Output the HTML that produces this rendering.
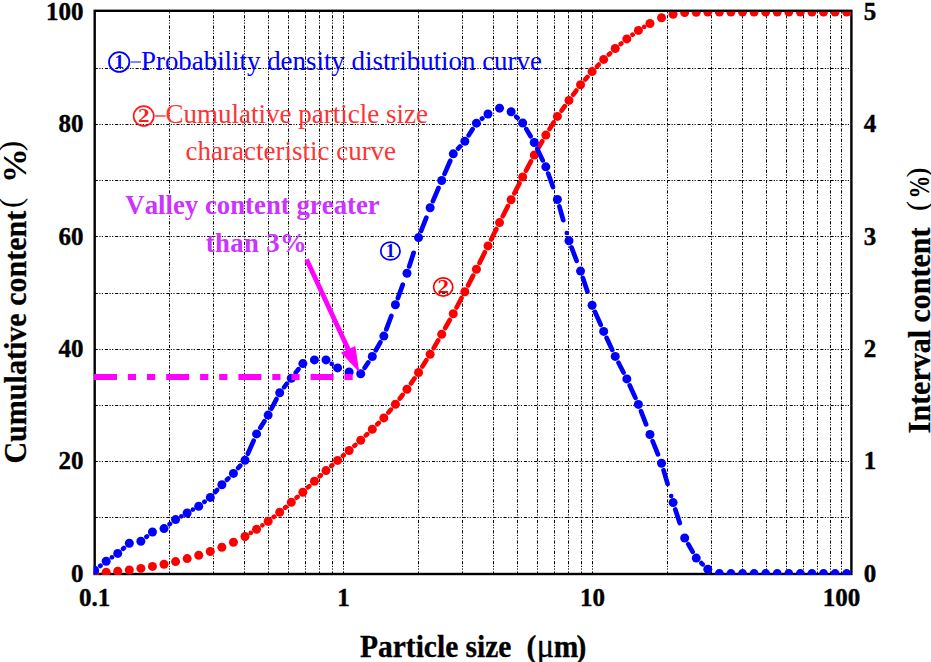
<!DOCTYPE html>
<html><head><meta charset="utf-8"><style>
html,body{margin:0;padding:0;background:#fff;}
body{width:931px;height:662px;overflow:hidden;font-family:"Liberation Serif",serif;}
svg{display:block;}
text{font-kerning:none;font-feature-settings:"kern" 0;}
.bk{stroke:#000;stroke-width:0.4px;}
.bk2{stroke:#000;stroke-width:0.3px;}
</style></head><body>
<svg width="931" height="662" viewBox="0 0 931 662">
<defs><clipPath id="pc"><rect x="93.6" y="11.8" width="759" height="563.3"/></clipPath></defs>
<rect width="931" height="662" fill="#fff"/>
<path d="M94.7 517.50H851.4 M94.7 461.50H851.4 M94.7 405.50H851.4 M94.7 349.50H851.4 M94.7 293.50H851.4 M94.7 236.50H851.4 M94.7 180.50H851.4 M94.7 124.50H851.4 M94.7 68.50H851.4" stroke="#000" stroke-width="1" stroke-dasharray="3.1 1.45 1.2 1.35 1.2 1.92" fill="none"/>
<path d="M169.50 10.8V574.0 M213.50 10.8V574.0 M244.50 10.8V574.0 M268.50 10.8V574.0 M288.50 10.8V574.0 M305.50 10.8V574.0 M319.50 10.8V574.0 M332.50 10.8V574.0 M343.50 10.8V574.0 M418.50 10.8V574.0 M462.50 10.8V574.0 M493.50 10.8V574.0 M517.50 10.8V574.0 M537.50 10.8V574.0 M554.50 10.8V574.0 M568.50 10.8V574.0 M581.50 10.8V574.0 M592.50 10.8V574.0 M667.50 10.8V574.0 M711.50 10.8V574.0 M742.50 10.8V574.0 M766.50 10.8V574.0 M786.50 10.8V574.0 M803.50 10.8V574.0 M817.50 10.8V574.0 M830.50 10.8V574.0 M841.50 10.8V574.0" stroke="#000" stroke-width="1" stroke-dasharray="3.2 1.5 1.2 1.4 1.2 1.8" stroke-dashoffset="5.9" fill="none"/>
<rect x="94.7" y="10.8" width="756.7" height="563.2" fill="none" stroke="#000" stroke-width="2.4"/>
<g clip-path="url(#pc)">
<path d="M273.79 516.91L274.08 516.69M285.13 507.62L285.88 506.98M296.68 497.60L297.47 496.90M308.04 487.27L309.25 486.13M319.70 476.37L320.73 475.43M331.36 465.87L332.21 465.13M343.00 455.75L343.71 455.15M354.50 445.77L355.35 445.03M365.89 435.37L367.10 434.23M377.37 424.28L378.76 422.92M388.46 412.44L390.81 409.66M399.81 398.55L402.60 394.95M411.05 383.41L414.50 378.39M422.40 366.47L426.29 360.33M433.70 348.10L438.13 340.40M445.23 327.98L449.74 320.02M456.59 307.47L461.52 298.03M468.12 285.35L473.13 275.65M479.58 262.89L484.81 252.31M491.16 239.50L496.37 229.00M502.77 216.22L507.90 206.08M514.37 193.33L519.44 183.37M526.03 170.68L530.92 161.42M537.84 148.91L542.25 141.29M549.59 129.02L553.64 122.48M561.59 110.61L564.78 106.19M573.23 94.66L576.28 90.54M585.25 79.42L587.40 76.98M597.03 66.41L598.76 64.59M608.88 54.50L610.05 53.40M620.75 43.93L621.32 43.47M632.58 34.67L632.63 34.63" stroke="#f00" stroke-width="4.7" stroke-linecap="round" fill="none"/>
<circle cx="250.80" cy="532.90" r="2.35" fill="#f00"/>
<circle cx="262.37" cy="525.30" r="2.35" fill="#f00"/>
<circle cx="644.18" cy="26.95" r="2.35" fill="#f00"/>
<circle cx="94.60" cy="573.40" r="4.5" fill="#f00"/>
<circle cx="106.17" cy="572.20" r="4.5" fill="#f00"/>
<circle cx="117.74" cy="571.20" r="4.5" fill="#f00"/>
<circle cx="129.31" cy="570.00" r="4.5" fill="#f00"/>
<circle cx="140.88" cy="568.40" r="4.5" fill="#f00"/>
<circle cx="152.45" cy="566.40" r="4.5" fill="#f00"/>
<circle cx="164.02" cy="564.30" r="4.5" fill="#f00"/>
<circle cx="175.59" cy="561.60" r="4.5" fill="#f00"/>
<circle cx="187.16" cy="558.60" r="4.5" fill="#f00"/>
<circle cx="198.73" cy="555.30" r="4.5" fill="#f00"/>
<circle cx="210.30" cy="551.50" r="4.5" fill="#f00"/>
<circle cx="221.87" cy="547.20" r="4.5" fill="#f00"/>
<circle cx="233.44" cy="542.20" r="4.5" fill="#f00"/>
<circle cx="245.01" cy="536.50" r="4.5" fill="#f00"/>
<circle cx="256.58" cy="529.30" r="4.5" fill="#f00"/>
<circle cx="268.15" cy="521.30" r="4.5" fill="#f00"/>
<circle cx="279.72" cy="512.30" r="4.5" fill="#f00"/>
<circle cx="291.29" cy="502.30" r="4.5" fill="#f00"/>
<circle cx="302.86" cy="492.20" r="4.5" fill="#f00"/>
<circle cx="314.43" cy="481.20" r="4.5" fill="#f00"/>
<circle cx="326.00" cy="470.60" r="4.5" fill="#f00"/>
<circle cx="337.57" cy="460.40" r="4.5" fill="#f00"/>
<circle cx="349.14" cy="450.50" r="4.5" fill="#f00"/>
<circle cx="360.71" cy="440.30" r="4.5" fill="#f00"/>
<circle cx="372.28" cy="429.30" r="4.5" fill="#f00"/>
<circle cx="383.85" cy="417.90" r="4.5" fill="#f00"/>
<circle cx="395.42" cy="404.20" r="4.5" fill="#f00"/>
<circle cx="406.99" cy="389.30" r="4.5" fill="#f00"/>
<circle cx="418.56" cy="372.50" r="4.5" fill="#f00"/>
<circle cx="430.13" cy="354.30" r="4.5" fill="#f00"/>
<circle cx="441.70" cy="334.20" r="4.5" fill="#f00"/>
<circle cx="453.27" cy="313.80" r="4.5" fill="#f00"/>
<circle cx="464.84" cy="291.70" r="4.5" fill="#f00"/>
<circle cx="476.41" cy="269.30" r="4.5" fill="#f00"/>
<circle cx="487.98" cy="245.90" r="4.5" fill="#f00"/>
<circle cx="499.55" cy="222.60" r="4.5" fill="#f00"/>
<circle cx="511.12" cy="199.70" r="4.5" fill="#f00"/>
<circle cx="522.69" cy="177.00" r="4.5" fill="#f00"/>
<circle cx="534.26" cy="155.10" r="4.5" fill="#f00"/>
<circle cx="545.83" cy="135.10" r="4.5" fill="#f00"/>
<circle cx="557.40" cy="116.40" r="4.5" fill="#f00"/>
<circle cx="568.97" cy="100.40" r="4.5" fill="#f00"/>
<circle cx="580.54" cy="84.80" r="4.5" fill="#f00"/>
<circle cx="592.11" cy="71.60" r="4.5" fill="#f00"/>
<circle cx="603.68" cy="59.40" r="4.5" fill="#f00"/>
<circle cx="615.25" cy="48.50" r="4.5" fill="#f00"/>
<circle cx="626.82" cy="38.90" r="4.5" fill="#f00"/>
<circle cx="638.39" cy="30.40" r="4.5" fill="#f00"/>
<circle cx="649.96" cy="23.50" r="4.5" fill="#f00"/>
<circle cx="661.53" cy="17.80" r="4.5" fill="#f00"/>
<circle cx="673.10" cy="14.20" r="4.5" fill="#f00"/>
<circle cx="684.67" cy="12.60" r="4.5" fill="#f00"/>
<circle cx="696.24" cy="12.20" r="4.5" fill="#f00"/>
<circle cx="707.81" cy="12.00" r="4.5" fill="#f00"/>
<circle cx="719.38" cy="12.00" r="4.5" fill="#f00"/>
<circle cx="730.95" cy="12.00" r="4.5" fill="#f00"/>
<circle cx="742.52" cy="12.00" r="4.5" fill="#f00"/>
<circle cx="754.09" cy="12.00" r="4.5" fill="#f00"/>
<circle cx="765.66" cy="12.00" r="4.5" fill="#f00"/>
<circle cx="777.23" cy="12.00" r="4.5" fill="#f00"/>
<circle cx="788.80" cy="12.00" r="4.5" fill="#f00"/>
<circle cx="800.37" cy="12.00" r="4.5" fill="#f00"/>
<circle cx="811.94" cy="12.00" r="4.5" fill="#f00"/>
<circle cx="823.51" cy="12.00" r="4.5" fill="#f00"/>
<circle cx="835.08" cy="12.00" r="4.5" fill="#f00"/>
<circle cx="846.65" cy="12.00" r="4.5" fill="#f00"/>
<path d="M100.24 565.91L100.53 565.69M123.13 548.70L123.92 548.00M146.45 536.82L146.88 536.48M169.66 524.21L169.95 523.99M204.42 501.87L204.61 501.73M215.14 492.13L217.03 490.07M226.96 479.78L228.35 478.42M238.17 468.04L240.28 465.66M247.88 453.75L253.62 440.65M260.33 427.81L264.40 421.19M271.43 408.75L276.44 399.05M284.18 387.11L286.83 383.79M295.73 372.60L298.42 369.20M364.70 367.77L368.29 362.43M375.81 350.28L380.32 342.32M386.33 329.39L391.29 315.98M397.88 298.09L402.79 284.66M409.20 266.40L413.62 252.80M421.14 230.93L426.31 217.60M432.92 201.17L438.50 188.00M444.55 173.89L450.26 160.78M458.11 148.58L460.00 146.52M468.69 135.23L472.56 129.17M482.01 118.70L482.38 118.40M516.26 116.72L517.55 117.98M526.34 129.10L530.61 136.30M537.32 148.91L542.77 160.39M548.21 173.59L552.98 187.07M559.34 206.43L563.21 220.20M571.51 247.38L576.60 260.75M582.83 277.87L587.41 291.42M595.01 311.84L600.78 324.86M606.68 337.89L612.25 349.91M618.52 362.76L623.55 372.54M629.77 385.41L635.44 397.89M640.96 411.07L646.09 424.42M652.63 441.13L657.96 454.40M663.55 470.16L667.59 483.88M675.32 509.40L679.76 522.99M688.24 544.20L692.67 551.90M701.38 563.07L702.67 564.33" stroke="#00f" stroke-width="4.7" stroke-linecap="round" fill="none"/>
<circle cx="111.95" cy="557.35" r="2.35" fill="#00f"/>
<circle cx="181.38" cy="516.30" r="2.35" fill="#00f"/>
<circle cx="192.94" cy="509.60" r="2.35" fill="#00f"/>
<circle cx="331.79" cy="363.90" r="2.35" fill="#00f"/>
<circle cx="566.81" cy="233.00" r="2.35" fill="#00f"/>
<circle cx="671.16" cy="496.00" r="2.35" fill="#00f"/>
<circle cx="94.60" cy="570.30" r="4.5" fill="#00f"/>
<circle cx="106.17" cy="561.30" r="4.5" fill="#00f"/>
<circle cx="117.74" cy="553.40" r="4.5" fill="#00f"/>
<circle cx="129.31" cy="543.30" r="4.5" fill="#00f"/>
<circle cx="140.88" cy="541.30" r="4.5" fill="#00f"/>
<circle cx="152.45" cy="532.00" r="4.5" fill="#00f"/>
<circle cx="164.02" cy="528.60" r="4.5" fill="#00f"/>
<circle cx="175.59" cy="519.60" r="4.5" fill="#00f"/>
<circle cx="187.16" cy="513.00" r="4.5" fill="#00f"/>
<circle cx="198.73" cy="506.20" r="4.5" fill="#00f"/>
<circle cx="210.30" cy="497.40" r="4.5" fill="#00f"/>
<circle cx="221.87" cy="484.80" r="4.5" fill="#00f"/>
<circle cx="233.44" cy="473.40" r="4.5" fill="#00f"/>
<circle cx="245.01" cy="460.30" r="4.5" fill="#00f"/>
<circle cx="256.58" cy="433.90" r="4.5" fill="#00f"/>
<circle cx="268.15" cy="415.10" r="4.5" fill="#00f"/>
<circle cx="279.72" cy="392.70" r="4.5" fill="#00f"/>
<circle cx="291.29" cy="378.20" r="4.5" fill="#00f"/>
<circle cx="302.86" cy="363.60" r="4.5" fill="#00f"/>
<circle cx="314.43" cy="359.90" r="4.5" fill="#00f"/>
<circle cx="326.00" cy="359.90" r="4.5" fill="#00f"/>
<circle cx="337.57" cy="367.90" r="4.5" fill="#00f"/>
<circle cx="349.14" cy="372.00" r="4.5" fill="#00f"/>
<circle cx="360.71" cy="373.70" r="4.5" fill="#00f"/>
<circle cx="372.28" cy="356.50" r="4.5" fill="#00f"/>
<circle cx="383.85" cy="336.10" r="4.5" fill="#00f"/>
<circle cx="395.42" cy="304.80" r="4.5" fill="#00f"/>
<circle cx="406.99" cy="273.20" r="4.5" fill="#00f"/>
<circle cx="418.56" cy="237.60" r="4.5" fill="#00f"/>
<circle cx="430.13" cy="207.75" r="4.5" fill="#00f"/>
<circle cx="441.70" cy="180.45" r="4.5" fill="#00f"/>
<circle cx="453.27" cy="153.85" r="4.5" fill="#00f"/>
<circle cx="464.84" cy="141.25" r="4.5" fill="#00f"/>
<circle cx="476.41" cy="123.15" r="4.5" fill="#00f"/>
<circle cx="487.98" cy="113.95" r="4.5" fill="#00f"/>
<circle cx="499.55" cy="108.15" r="4.5" fill="#00f"/>
<circle cx="511.12" cy="111.75" r="4.5" fill="#00f"/>
<circle cx="522.69" cy="122.95" r="4.5" fill="#00f"/>
<circle cx="534.26" cy="142.45" r="4.5" fill="#00f"/>
<circle cx="545.83" cy="166.85" r="4.5" fill="#00f"/>
<circle cx="557.40" cy="199.55" r="4.5" fill="#00f"/>
<circle cx="568.97" cy="240.70" r="4.5" fill="#00f"/>
<circle cx="580.54" cy="271.10" r="4.5" fill="#00f"/>
<circle cx="592.11" cy="305.30" r="4.5" fill="#00f"/>
<circle cx="603.68" cy="331.40" r="4.5" fill="#00f"/>
<circle cx="615.25" cy="356.40" r="4.5" fill="#00f"/>
<circle cx="626.82" cy="378.90" r="4.5" fill="#00f"/>
<circle cx="638.39" cy="404.40" r="4.5" fill="#00f"/>
<circle cx="649.96" cy="434.50" r="4.5" fill="#00f"/>
<circle cx="661.53" cy="463.30" r="4.5" fill="#00f"/>
<circle cx="673.10" cy="502.60" r="4.5" fill="#00f"/>
<circle cx="684.67" cy="538.00" r="4.5" fill="#00f"/>
<circle cx="696.24" cy="558.10" r="4.5" fill="#00f"/>
<circle cx="707.81" cy="569.30" r="4.5" fill="#00f"/>
<circle cx="719.38" cy="573.60" r="4.5" fill="#00f"/>
<circle cx="730.95" cy="573.60" r="4.5" fill="#00f"/>
<circle cx="742.52" cy="573.60" r="4.5" fill="#00f"/>
<circle cx="754.09" cy="573.60" r="4.5" fill="#00f"/>
<circle cx="765.66" cy="573.60" r="4.5" fill="#00f"/>
<circle cx="777.23" cy="573.60" r="4.5" fill="#00f"/>
<circle cx="788.80" cy="573.60" r="4.5" fill="#00f"/>
<circle cx="800.37" cy="573.60" r="4.5" fill="#00f"/>
<circle cx="811.94" cy="573.60" r="4.5" fill="#00f"/>
<circle cx="823.51" cy="573.60" r="4.5" fill="#00f"/>
<circle cx="835.08" cy="573.60" r="4.5" fill="#00f"/>
<circle cx="846.65" cy="573.60" r="4.5" fill="#00f"/>
</g>
<path d="M94 377H353" stroke="#f0f" stroke-width="6" stroke-dasharray="23 10.9 8.2 10.9 8.2 11" fill="none"/>
<path d="M306.6 259.6L349.5 352" stroke="#f0f" stroke-width="4.8" fill="none"/>
<path d="M358.4 370.6L354.9 346.9L341.9 352.8Z" fill="#f0f" stroke="#f0f" stroke-width="1.2" stroke-linejoin="round"/>
<text x="83.6" y="581.7" font-family="Liberation Serif, serif" font-weight="bold" font-size="25" text-anchor="end" class="bk">0</text>
<text x="83.6" y="469.4" font-family="Liberation Serif, serif" font-weight="bold" font-size="25" text-anchor="end" class="bk">20</text>
<text x="83.6" y="357.0" font-family="Liberation Serif, serif" font-weight="bold" font-size="25" text-anchor="end" class="bk">40</text>
<text x="83.6" y="244.7" font-family="Liberation Serif, serif" font-weight="bold" font-size="25" text-anchor="end" class="bk">60</text>
<text x="83.6" y="132.3" font-family="Liberation Serif, serif" font-weight="bold" font-size="25" text-anchor="end" class="bk">80</text>
<text x="83.6" y="20.0" font-family="Liberation Serif, serif" font-weight="bold" font-size="25" text-anchor="end" class="bk">100</text>
<text x="863.7" y="581.7" font-family="Liberation Serif, serif" font-weight="bold" font-size="25" class="bk">0</text>
<text x="863.7" y="469.4" font-family="Liberation Serif, serif" font-weight="bold" font-size="25" class="bk">1</text>
<text x="863.7" y="357.0" font-family="Liberation Serif, serif" font-weight="bold" font-size="25" class="bk">2</text>
<text x="863.7" y="244.7" font-family="Liberation Serif, serif" font-weight="bold" font-size="25" class="bk">3</text>
<text x="863.7" y="132.3" font-family="Liberation Serif, serif" font-weight="bold" font-size="25" class="bk">4</text>
<text x="863.7" y="20.0" font-family="Liberation Serif, serif" font-weight="bold" font-size="25" class="bk">5</text>
<text x="94.6" y="605.7" font-family="Liberation Serif, serif" font-weight="bold" font-size="25" text-anchor="middle" class="bk">0.1</text>
<text x="343.6" y="605.7" font-family="Liberation Serif, serif" font-weight="bold" font-size="25" text-anchor="middle" class="bk">1</text>
<text x="592.6" y="605.7" font-family="Liberation Serif, serif" font-weight="bold" font-size="25" text-anchor="middle" class="bk">10</text>
<text x="841.6" y="605.7" font-family="Liberation Serif, serif" font-weight="bold" font-size="25" text-anchor="middle" class="bk">100</text>
<text transform="translate(360,656.5) scale(1,1.045)" font-family="Liberation Serif, serif" font-weight="bold" font-size="29.5" class="bk2">Particle size</text>
<text transform="translate(526.6,656.5) scale(1,1.045)" font-family="Liberation Serif, serif" font-weight="bold" font-size="29.5" class="bk2">(<tspan font-size="32.5" font-weight="normal" dx="0.3">μ</tspan><tspan dx="-0.3">m</tspan><tspan dx="-1.8">)</tspan></text>
<text transform="translate(25.7,463.6) rotate(-90) scale(0.925,1)" font-family="Liberation Serif, serif" font-weight="bold" font-size="32.5" class="bk2">Cumulative content</text>
<text transform="translate(20.5,208) rotate(-90)" font-family="Liberation Serif, serif" font-size="31">(</text>
<text transform="translate(25.9,182.9) rotate(-90) scale(1.05,1)" font-family="Liberation Serif, serif" font-weight="bold" font-size="33">%</text>
<text transform="translate(20.5,151.3) rotate(-90)" font-family="Liberation Serif, serif" font-size="31">)</text>
<text transform="translate(930,433.2) rotate(-90) scale(0.955,1)" font-family="Liberation Serif, serif" font-weight="bold" font-size="31.4" class="bk2">Interval content</text>
<text transform="translate(927.2,211) rotate(-90)" font-family="Liberation Serif, serif" font-size="30">(</text>
<text transform="translate(929.3,198.6) rotate(-90) scale(0.82,1.08)" font-family="Liberation Serif, serif" font-weight="bold" font-size="28">%</text>
<text transform="translate(927.2,177.6) rotate(-90)" font-family="Liberation Serif, serif" font-size="30">)</text>
<ellipse cx="119.2" cy="62.05" rx="10.2" ry="9.85" fill="none" stroke="#00f" stroke-width="1.8"/>
<text transform="translate(119.2,68.47) scale(1.0,1)" font-family="Liberation Serif, serif" font-weight="bold" font-size="19" fill="#00f" text-anchor="middle">1</text>
<path d="M130.8 62H141" stroke="#00f" stroke-width="1.3" opacity="0.75"/>
<text x="141.0" y="69.8" font-family="Liberation Serif, serif" font-size="26.88" fill="#00f">Probability density distribution curve</text>
<ellipse cx="143.7" cy="116.05" rx="10.1" ry="9.9" fill="none" stroke="#ff1a1a" stroke-width="1.7"/>
<text transform="translate(143.7,122.30) scale(1.25,1)" font-family="Liberation Serif, serif" font-weight="bold" font-size="18.5" fill="#ff1a1a" text-anchor="middle">2</text>
<path d="M154.8 116H165.7" stroke="#ff3333" stroke-width="1.4"/>
<text x="165.6" y="123.4" font-family="Liberation Serif, serif" font-size="27" fill="#ff3333">Cumulative particle size</text>
<text x="185.5" y="160.3" font-family="Liberation Serif, serif" font-size="27" fill="#ff3333">characteristic curve</text>
<text x="125.3" y="213.8" font-family="Liberation Serif, serif" font-weight="bold" font-size="26.8" fill="#cc33ff">Valley content greater</text>
<text x="205.7" y="252.2" font-family="Liberation Serif, serif" font-weight="bold" font-size="26.8" letter-spacing="0.35" fill="#cc33ff">than 3%</text>
<ellipse cx="390.4" cy="251.0" rx="9.6" ry="8.95" fill="none" stroke="#00f" stroke-width="1.7"/>
<text transform="translate(390.4,257.19) scale(1.0,1)" font-family="Liberation Serif, serif" font-weight="bold" font-size="18.3" fill="#00f" text-anchor="middle">1</text>
<ellipse cx="443.2" cy="287.0" rx="9.6" ry="9.15" fill="none" stroke="#f00" stroke-width="1.7"/>
<text transform="translate(443.2,293.19) scale(1.25,1)" font-family="Liberation Serif, serif" font-weight="bold" font-size="18.3" fill="#f00" text-anchor="middle">2</text>
</svg>
</body></html>
